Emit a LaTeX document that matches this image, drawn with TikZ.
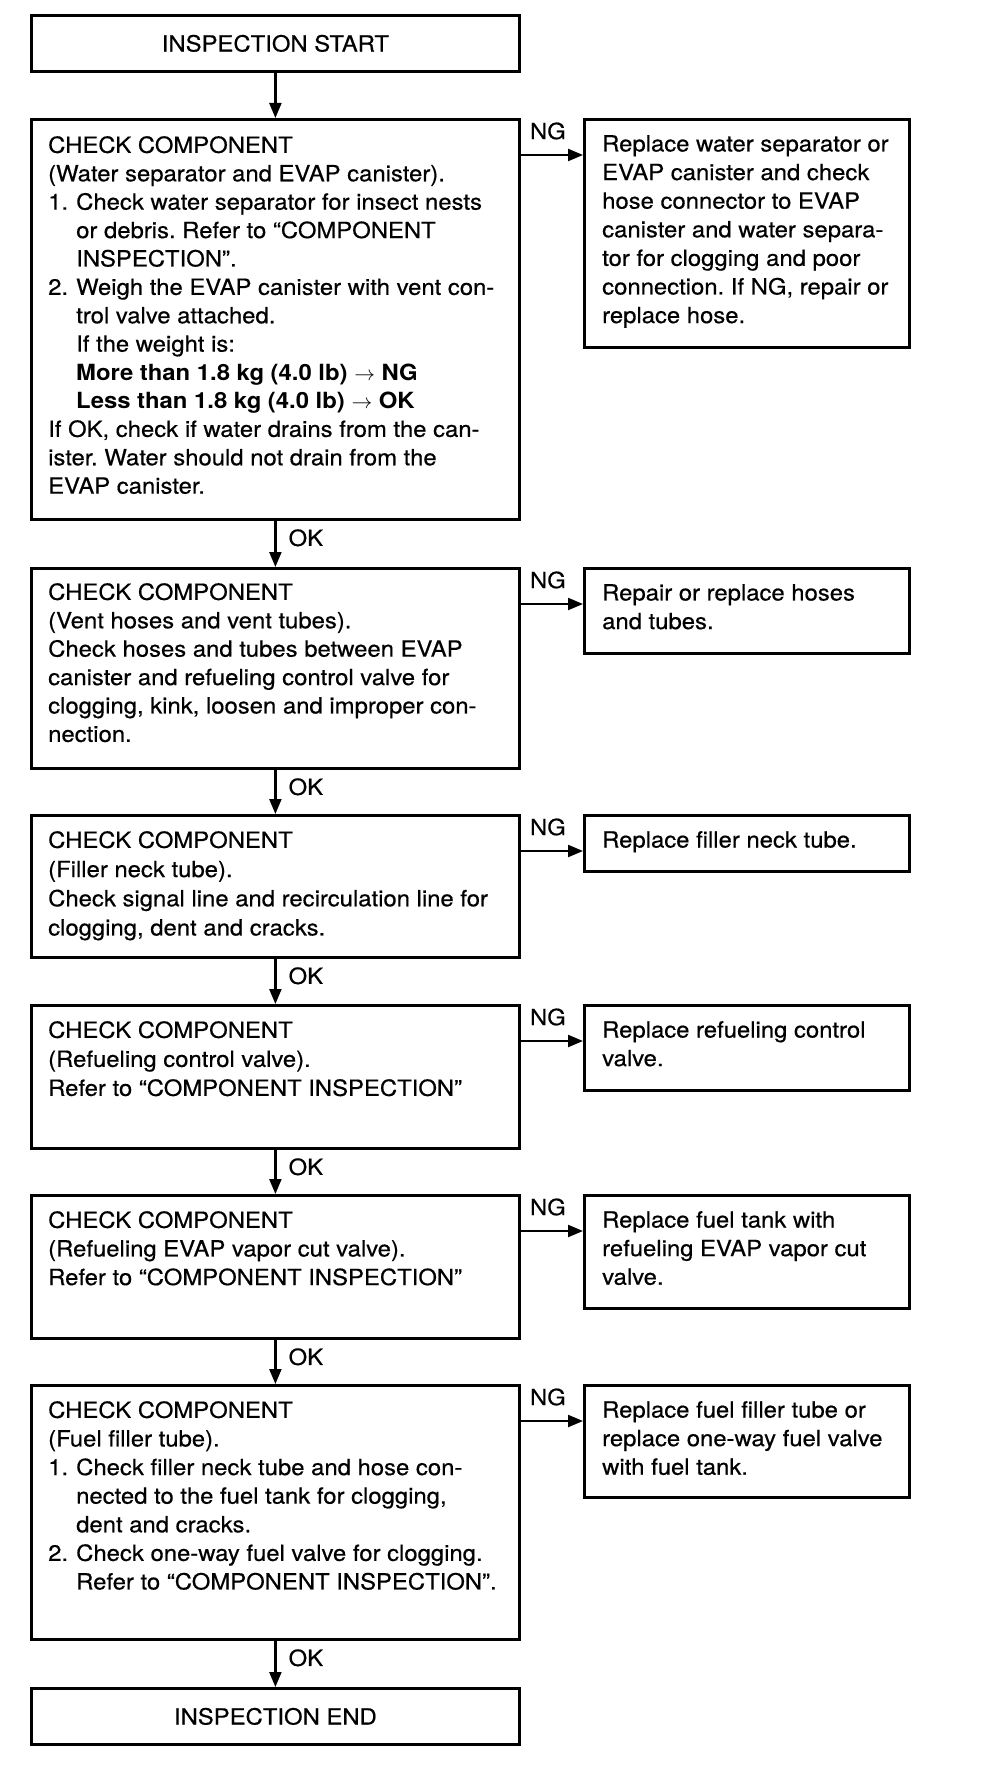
\documentclass[tikz,border=0pt]{standalone}
\usepackage{fontspec}
\setmainfont{TeX Gyre Heros}[FakeStretch=1.07, UprightFeatures={FakeBold=0.5}]
\usetikzlibrary{arrows.meta}
\newcommand{\itm}[1]{\makebox[28pt][l]{#1}}
\newcommand{\ind}{\hspace*{28pt}}
\frenchspacing
\begin{document}
\begin{tikzpicture}[x=1pt,y=-1pt,
  mbox/.style={draw, line width=2.8pt, anchor=north west, inner sep=0pt, minimum width=488pt},
  rbox/.style={draw, line width=2.8pt, anchor=north west, inner sep=0pt, minimum width=325pt},
  txt/.style={anchor=north west, inner sep=0pt, align=left, font=\fontsize{22.3}{#1}\selectfont},
  txt/.default=28,
  lbl/.style={anchor=west, inner sep=0pt, font=\fontsize{22.3}{26}\selectfont},
  arr/.style={line width=2.2pt, -{Triangle[length=15pt,width=12pt]}},
]
\useasboundingbox (0,0) rectangle (992,1768);

% main column
\node[mbox, minimum height=56pt, font=\fontsize{22.3}{26}\selectfont] (s) at (30,14) {INSPECTION START};
\node[mbox, minimum height=400pt] (b1) at (30,118) {};
\node[mbox, minimum height=200pt] (b2) at (30,567) {};
\node[mbox, minimum height=142pt] (b3) at (30,814) {};
\node[mbox, minimum height=143pt] (b4) at (30,1004) {};
\node[mbox, minimum height=143pt] (b5) at (30,1194) {};
\node[mbox, minimum height=254pt] (b6) at (30,1384) {};
\node[mbox, minimum height=56pt, font=\fontsize{22.3}{26}\selectfont] (e) at (30,1687) {INSPECTION END};

% right column
\node[rbox, minimum height=228pt] (r1) at (583,118) {};
\node[rbox, minimum height=85pt] (r2) at (583,567) {};
\node[rbox, minimum height=56pt] (r3) at (583,814) {};
\node[rbox, minimum height=85pt] (r4) at (583,1004) {};
\node[rbox, minimum height=113pt] (r5) at (583,1194) {};
\node[rbox, minimum height=112pt] (r6) at (583,1384) {};

% texts main
\node[txt=28.4] (t1) at ([shift={(18,18)}]b1.north west) {CHECK COMPONENT\\
(Water separator and EVAP canister).\\
\itm{1.}Check water separator for insect nests\\
\ind or debris. Refer to “COMPONENT\\
\ind INSPECTION”.\\
\itm{2.}Weigh the EVAP canister with vent con-\\
\ind trol valve attached.\\
\ind If the weight is:\\
\ind \textbf{More than 1.8 kg (4.0 lb) $\rightarrow$ NG}\\
\ind \textbf{Less than 1.8 kg (4.0 lb) $\rightarrow$ OK}\\
If OK, check if water drains from the can-\\
ister. Water should not drain from the\\
EVAP canister.};
\node[txt=28.4] (t2) at ([shift={(18,16)}]b2.north west) {CHECK COMPONENT\\
(Vent hoses and vent tubes).\\
Check hoses and tubes between EVAP\\
canister and refueling control valve for\\
clogging, kink, loosen and improper con-\\
nection.};
\node[txt=29.2] (t3) at ([shift={(18,17)}]b3.north west) {CHECK COMPONENT\\
(Filler neck tube).\\
Check signal line and recirculation line for\\
clogging, dent and cracks.};
\node[txt=29] (t4) at ([shift={(18,17)}]b4.north west) {CHECK COMPONENT\\
(Refueling control valve).\\
Refer to “COMPONENT INSPECTION”};
\node[txt=28.6] (t5) at ([shift={(18,17)}]b5.north west) {CHECK COMPONENT\\
(Refueling EVAP vapor cut valve).\\
Refer to “COMPONENT INSPECTION”};
\node[txt=28.6] (t6) at ([shift={(18,17)}]b6.north west) {CHECK COMPONENT\\
(Fuel filler tube).\\
\itm{1.}Check filler neck tube and hose con-\\
\ind nected to the fuel tank for clogging,\\
\ind dent and cracks.\\
\itm{2.}Check one-way fuel valve for clogging.\\
\ind Refer to “COMPONENT INSPECTION”.};

% texts right
\node[txt=28.6] (u1) at ([shift={(19,17)}]r1.north west) {Replace water separator or\\
EVAP canister and check\\
hose connector to EVAP\\
canister and water separa-\\
tor for clogging and poor\\
connection. If NG, repair or\\
replace hose.};
\node[txt=28.6] (u2) at ([shift={(19,17)}]r2.north west) {Repair or replace hoses\\
and tubes.};
\node[txt=28.6] (u3) at ([shift={(19,17)}]r3.north west) {Replace filler neck tube.};
\node[txt=28.6] (u4) at ([shift={(19,17)}]r4.north west) {Replace refueling control\\
valve.};
\node[txt=28.6] (u5) at ([shift={(19,17)}]r5.north west) {Replace fuel tank with\\
refueling EVAP vapor cut\\
valve.};
\node[txt=28.6] (u6) at ([shift={(19,17)}]r6.north west) {Replace fuel filler tube or\\
replace one-way fuel valve\\
with fuel tank.};

% OK arrows
\draw[arr] (s.south) -- (b1.north);
\draw[arr] (b1.south) -- (b2.north);
\draw[arr] (b2.south) -- (b3.north);
\draw[arr] (b3.south) -- (b4.north);
\draw[arr] (b4.south) -- (b5.north);
\draw[arr] (b5.south) -- (b6.north);
\draw[arr] (b6.south) -- (e.north);
\foreach \b/\n in {b1/ok1,b2/ok2,b3/ok3,b4/ok4,b5/ok5,b6/ok6}
  \node[lbl] (\n) at ([shift={(13,17)}]\b.south) {OK};

% NG arrows
\foreach \b/\r/\n in {b1/r1/ng1,b2/r2/ng2,b3/r3/ng3,b4/r4/ng4,b5/r5/ng5,b6/r6/ng6}{
  \draw[arr] ([yshift=-37pt]\b.north east) -- ([yshift=-37pt]\r.north west);
  \node[lbl] (\n) at ([shift={(9,13)}]\b.north east) {NG};
}
\end{tikzpicture}
\end{document}
